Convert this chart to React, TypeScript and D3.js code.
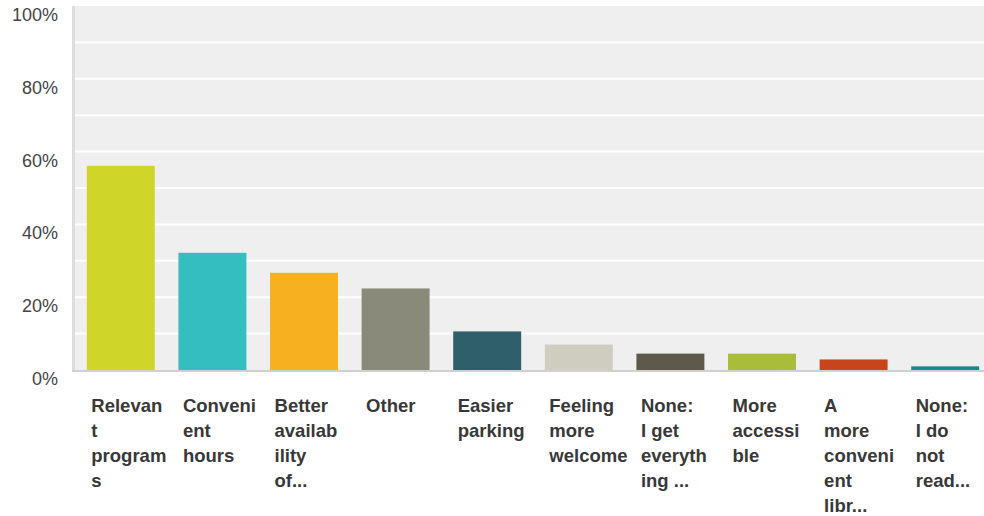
import { useEffect, useRef } from 'react'
import * as d3 from 'd3'

const categories = [
  'Relevant programs',
  'Convenient hours',
  'Better availability of...',
  'Other',
  'Easier parking',
  'Feeling more welcome',
  'None: I get everything ...',
  'More accessible',
  'A more convenient libr...',
  'None: I do not read...',
]

// wrapped label lines as they appear under each bar
const labelLines = [
  ['Relevan', 't', 'program', 's'],
  ['Conveni', 'ent', 'hours'],
  ['Better', 'availab', 'ility', 'of...'],
  ['Other'],
  ['Easier', 'parking'],
  ['Feeling', 'more', 'welcome'],
  ['None:', 'I get', 'everyth', 'ing ...'],
  ['More', 'accessi', 'ble'],
  ['A', 'more', 'conveni', 'ent', 'libr...'],
  ['None:', 'I do', 'not', 'read...'],
]

const values = [56.1, 32.2, 26.7, 22.4, 10.6, 7.0, 4.5, 4.5, 2.9, 1.0]

const colors = [
  '#d0d52a',
  '#34bec0',
  '#f7b020',
  '#8a8a7a',
  '#2e5f6b',
  '#cfcdc0',
  '#5d5a4b',
  '#a9bd38',
  '#c8451c',
  '#0e8c88',
]

const yTicks = [0, 20, 40, 60, 80, 100]
const gridTicks = [10, 20, 30, 40, 50, 60, 70, 80, 90]

export default function App() {
  const svgRef = useRef<SVGSVGElement>(null)

  useEffect(() => {
    if (!svgRef.current) return
    const svg = d3.select(svgRef.current)
    svg.selectAll('*').remove()

    const left = 75
    const right = 991
    const top = 6
    const bottom = 370

    const x = d3
      .scaleBand<number>()
      .domain(d3.range(categories.length))
      .range([left, right])
      .paddingInner(0.258)
      .paddingOuter(0.129)

    const y = d3.scaleLinear().domain([0, 100]).range([bottom, top])

    // plot background
    svg
      .append('rect')
      .attr('x', left)
      .attr('y', top)
      .attr('width', 984 - left)
      .attr('height', bottom - top)
      .attr('fill', '#efefef')

    // gridlines
    svg
      .append('g')
      .selectAll('line')
      .data(gridTicks)
      .join('line')
      .attr('x1', left)
      .attr('x2', 984)
      .attr('y1', d => y(d))
      .attr('y2', d => y(d))
      .attr('stroke', '#ffffff')
      .attr('stroke-width', 2)

    // left axis line
    svg
      .append('line')
      .attr('x1', left - 1.5)
      .attr('x2', left - 1.5)
      .attr('y1', top)
      .attr('y2', bottom + 2)
      .attr('stroke', '#dddddd')
      .attr('stroke-width', 3)

    // bars
    svg
      .append('g')
      .selectAll('rect')
      .data(values)
      .join('rect')
      .attr('x', (_, i) => x(i)!)
      .attr('y', d => y(d))
      .attr('width', x.bandwidth())
      .attr('height', d => y(0) - y(d))
      .attr('fill', (_, i) => colors[i])

    // baseline
    svg
      .append('line')
      .attr('x1', left - 3)
      .attr('x2', 984)
      .attr('y1', y(0) + 1)
      .attr('y2', y(0) + 1)
      .attr('stroke', '#d0d0d0')
      .attr('stroke-width', 2)

    // y tick labels
    svg
      .append('g')
      .selectAll('text')
      .data(yTicks)
      .join('text')
      .attr('x', 58)
      .attr('y', d => y(d) + 15)
      .attr('text-anchor', 'end')
      .attr('font-family', 'Liberation Sans, Arial, sans-serif')
      .attr('font-size', 18)
      .attr('fill', '#444444')
      .text(d => `${d}%`)

    // category labels
    const lg = svg
      .append('g')
      .selectAll('text')
      .data(labelLines)
      .join('text')
      .attr('x', (_, i) => x(i)! + 4.5)
      .attr('y', 411.5)
      .attr('font-family', 'Liberation Sans, Arial, sans-serif')
      .attr('font-size', 18.5)
      .attr('font-weight', 'bold')
      .attr('fill', '#383838')

    lg.selectAll('tspan')
      .data(d => d)
      .join('tspan')
      .attr('x', function () {
        return (this.parentNode as SVGTextElement).getAttribute('x')
      })
      .attr('dy', (_, j) => (j === 0 ? 0 : 25))
      .text(d => d)
  }, [])

  return (
    <svg
      ref={svgRef}
      width={984}
      height={516}
      style={{ position: 'absolute', left: 0, top: 0, background: '#ffffff' }}
    />
  )
}
